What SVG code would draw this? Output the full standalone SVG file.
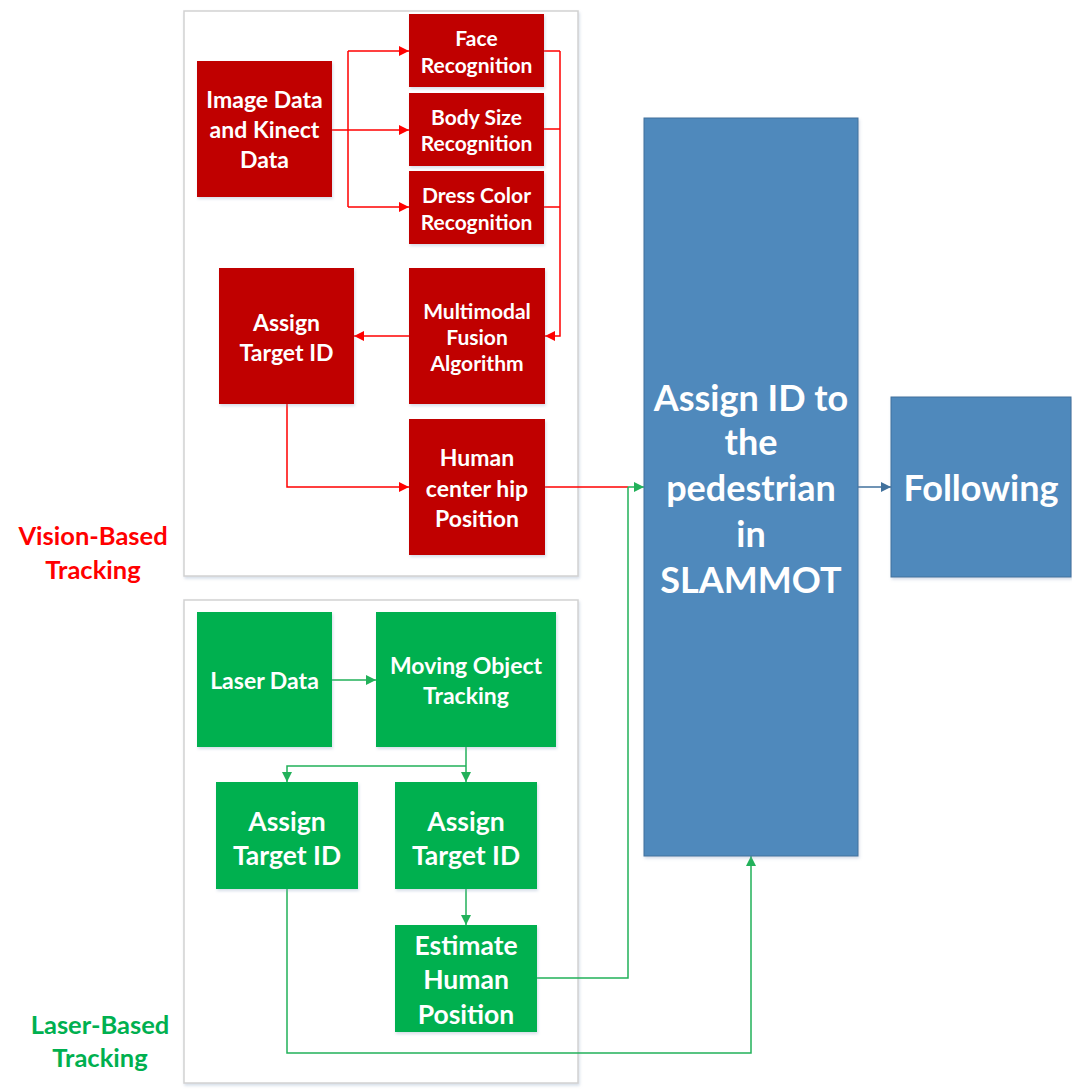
<svg xmlns="http://www.w3.org/2000/svg" width="1072" height="1091" viewBox="0 0 1072 1091">
<style>
.frame{fill:#fff;stroke:#d2d2d2;stroke-width:1.5}
.red{fill:#c00000}
.grn{fill:#00b050}
.blu{fill:#4f89bc;stroke:#41719c;stroke-width:1}
.t{font-family:Lato,"Liberation Sans",sans-serif;font-weight:bold;fill:#fff;text-anchor:middle;dominant-baseline:central}
.lr{fill:none;stroke:#ff0000;stroke-width:1.5}
.lg{fill:none;stroke:#22b15a;stroke-width:1.5}
.lb{fill:none;stroke:#41719c;stroke-width:1.5}
.lab{font-family:Lato,"Liberation Sans",sans-serif;font-weight:bold;font-size:25.5px;text-anchor:middle;dominant-baseline:central}
</style>
<defs>
<marker id="ar" markerWidth="10" markerHeight="10" refX="10" refY="5" orient="auto" markerUnits="userSpaceOnUse"><path d="M0,0 L10,5 L0,10 z" fill="#ff0000"/></marker>
<marker id="ag" markerWidth="10" markerHeight="10" refX="10" refY="5" orient="auto" markerUnits="userSpaceOnUse"><path d="M0,0 L10,5 L0,10 z" fill="#22b15a"/></marker>
<marker id="ab" markerWidth="10" markerHeight="10" refX="10" refY="5" orient="auto" markerUnits="userSpaceOnUse"><path d="M0,0 L10,5 L0,10 z" fill="#41719c"/></marker>
<filter id="sh" x="-10%" y="-10%" width="130%" height="130%"><feDropShadow dx="1" dy="2" stdDeviation="1.5" flood-color="#8aa0c0" flood-opacity="0.35"/></filter>
</defs>
<rect width="1072" height="1091" fill="#fff"/>
<rect class="frame" x="184" y="11" width="394" height="565" filter="url(#sh)"/>
<rect class="frame" x="184" y="600" width="394" height="483" filter="url(#sh)"/>

<g id="connectors">
<path class="lr" d="M332,130 H348 M348,51 V207" />
<path class="lr" d="M348,51 H409" marker-end="url(#ar)"/>
<path class="lr" d="M348,130 H409" marker-end="url(#ar)"/>
<path class="lr" d="M348,207 H409" marker-end="url(#ar)"/>
<path class="lr" d="M544,51 H560 M544,129 H560 M544,207 H560"/>
<path class="lr" d="M560,51 V336 H545" marker-end="url(#ar)"/>
<path class="lr" d="M409,336 H354" marker-end="url(#ar)"/>
<path class="lr" d="M287,404 V487 H409" marker-end="url(#ar)"/>
<path class="lr" d="M545,487 H628"/>
<path class="lg" d="M628,487 H644" marker-end="url(#ag)"/>
<path class="lg" d="M537,978 H628 V487"/>
<path class="lg" d="M332,680 H376" marker-end="url(#ag)"/>
<path class="lg" d="M466,747 V782" marker-end="url(#ag)"/>
<path class="lg" d="M466,766 H287 V782" marker-end="url(#ag)"/>
<path class="lg" d="M466,889 V925" marker-end="url(#ag)"/>
<path class="lg" d="M287,889 V1053 H751 V856" marker-end="url(#ag)"/>
<path class="lb" d="M858,487 H891" marker-end="url(#ab)"/>
</g>

<g id="image-data"><rect class="red" x="197" y="61" width="135" height="136" filter="url(#sh)"/>
<text class="t" font-size="23"><tspan x="264.5" y="99">Image Data</tspan><tspan x="264.5" y="129">and Kinect</tspan><tspan x="264.5" y="159">Data</tspan></text></g>
<g id="face"><rect class="red" x="409" y="14" width="135" height="73" filter="url(#sh)"/>
<text class="t" font-size="21"><tspan x="476.5" y="37">Face</tspan><tspan x="476.5" y="64">Recognition</tspan></text></g>
<g id="body"><rect class="red" x="409" y="93" width="135" height="73" filter="url(#sh)"/>
<text class="t" font-size="21"><tspan x="476.5" y="116">Body Size</tspan><tspan x="476.5" y="142">Recognition</tspan></text></g>
<g id="dress"><rect class="red" x="409" y="171" width="135" height="73" filter="url(#sh)"/>
<text class="t" font-size="21"><tspan x="476.5" y="194">Dress Color</tspan><tspan x="476.5" y="221">Recognition</tspan></text></g>
<g id="assign-red"><rect class="red" x="219" y="268" width="135" height="136" filter="url(#sh)"/>
<text class="t" font-size="23"><tspan x="286.5" y="322">Assign</tspan><tspan x="286.5" y="352">Target ID</tspan></text></g>
<g id="fusion"><rect class="red" x="409" y="268" width="136" height="136" filter="url(#sh)"/>
<text class="t" font-size="21"><tspan x="477" y="310">Multimodal</tspan><tspan x="477" y="336">Fusion</tspan><tspan x="477" y="362">Algorithm</tspan></text></g>
<g id="hip"><rect class="red" x="409" y="419" width="136" height="136" filter="url(#sh)"/>
<text class="t" font-size="23"><tspan x="477" y="457">Human</tspan><tspan x="477" y="488">center hip</tspan><tspan x="477" y="518">Position</tspan></text></g>

<g id="laser-data"><rect class="grn" x="197" y="612" width="135" height="135" filter="url(#sh)"/>
<text class="t" font-size="23" x="264.5" y="680">Laser Data</text></g>
<g id="mot"><rect class="grn" x="376" y="612" width="180" height="135" filter="url(#sh)"/>
<text class="t" font-size="23"><tspan x="466" y="665">Moving Object</tspan><tspan x="466" y="695">Tracking</tspan></text></g>
<g id="assign-g1"><rect class="grn" x="216" y="782" width="142" height="107" filter="url(#sh)"/>
<text class="t" font-size="26.5"><tspan x="287" y="821">Assign</tspan><tspan x="287" y="855">Target ID</tspan></text></g>
<g id="assign-g2"><rect class="grn" x="395" y="782" width="142" height="107" filter="url(#sh)"/>
<text class="t" font-size="26.5"><tspan x="466" y="821">Assign</tspan><tspan x="466" y="855">Target ID</tspan></text></g>
<g id="estimate"><rect class="grn" x="395" y="925" width="142" height="107" filter="url(#sh)"/>
<text class="t" font-size="26.5"><tspan x="466" y="945">Estimate</tspan><tspan x="466" y="979">Human</tspan><tspan x="466" y="1014">Position</tspan></text></g>

<g id="slammot"><rect class="blu" x="644" y="118" width="214" height="738" filter="url(#sh)"/>
<text class="t" font-size="36"><tspan x="751" y="397">Assign ID to</tspan><tspan x="751" y="441">the</tspan><tspan x="751" y="487">pedestrian</tspan><tspan x="751" y="533">in</tspan><tspan x="751" y="579">SLAMMOT</tspan></text></g>
<g id="following"><rect class="blu" x="891" y="397" width="180" height="180" filter="url(#sh)"/>
<text class="t" font-size="36" x="981" y="487">Following</text></g>

<g id="labels">
<text class="lab" fill="#ff0000"><tspan x="93" y="535">Vision-Based</tspan><tspan x="93" y="569">Tracking</tspan></text>
<text class="lab" fill="#00b050"><tspan x="100" y="1024">Laser-Based</tspan><tspan x="100" y="1057">Tracking</tspan></text>
</g>
</svg>
